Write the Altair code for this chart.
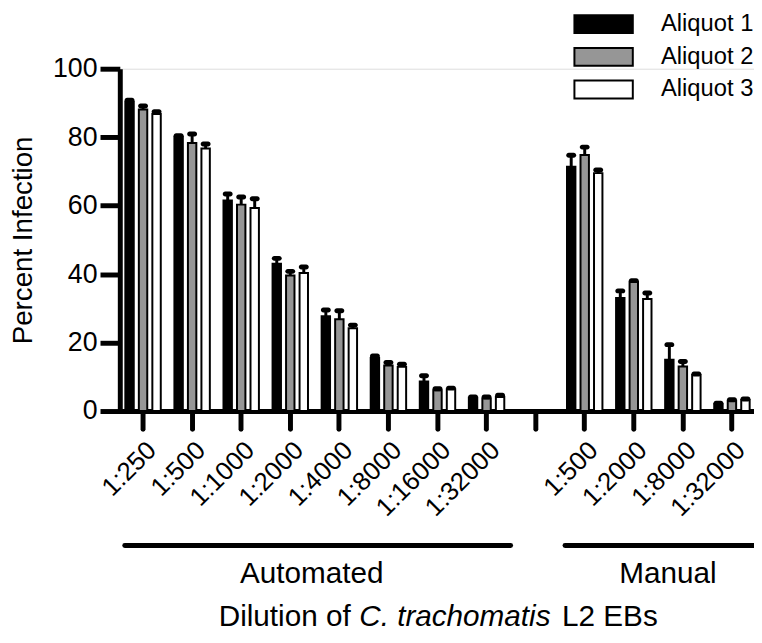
import altair as alt
import pandas as pd

# ---- data ----
automated_dilutions = ["1:250", "1:500", "1:1000", "1:2000", "1:4000", "1:8000", "1:16000", "1:32000"]
manual_dilutions = ["1:500", "1:2000", "1:8000", "1:32000"]
aliquots = ["Aliquot 1", "Aliquot 2", "Aliquot 3"]

aliquot1_auto = [90.3, 80.1, 61.5, 43.0, 27.7, 15.5, 8.6, 3.9]
aliquot1_auto_err = [0.5, 0.3, 1.9, 1.6, 1.8, 0.6, 1.7, 0.2]
aliquot2_auto = [88.1, 78.3, 60.3, 39.6, 26.8, 13.3, 6.1, 3.7]
aliquot2_auto_err = [1.0, 2.6, 2.2, 1.2, 2.5, 0.9, 0.4, 0.4]
aliquot3_auto = [86.8, 76.7, 59.3, 40.3, 24.2, 12.9, 6.4, 4.1]
aliquot3_auto_err = [0.6, 1.3, 2.7, 1.8, 0.9, 0.8, 0.3, 0.5]

aliquot1_manual = [71.4, 33.0, 15.0, 2.0]
aliquot1_manual_err = [3.3, 2.1, 4.4, 0.3]
aliquot2_manual = [74.8, 37.7, 13.0, 3.0]
aliquot2_manual_err = [2.3, 0.4, 1.5, 0.3]
aliquot3_manual = [69.5, 32.7, 10.5, 3.2]
aliquot3_manual_err = [0.9, 1.8, 0.3, 0.3]

group_names = ["Automated", "Manual"]
y_ticks = [0, 20, 40, 60, 80, 100]
title_parts = ["Dilution of", "C. trachomatis", "L2 EBs"]

FONT = "Liberation Sans"

# ---- table ----
keys = ["A " + d for d in automated_dilutions] + ["gap"] + ["M " + d for d in manual_dilutions]
rows = []
auto_sets = [(aliquot1_auto, aliquot1_auto_err), (aliquot2_auto, aliquot2_auto_err), (aliquot3_auto, aliquot3_auto_err)]
man_sets = [(aliquot1_manual, aliquot1_manual_err), (aliquot2_manual, aliquot2_manual_err), (aliquot3_manual, aliquot3_manual_err)]
for name, (vals, errs) in zip(aliquots, auto_sets):
    for d, v, e in zip(automated_dilutions, vals, errs):
        rows.append({"key": "A " + d, "aliquot": name, "value": v, "top": v + e})
for name, (vals, errs) in zip(aliquots, man_sets):
    for d, v, e in zip(manual_dilutions, vals, errs):
        rows.append({"key": "M " + d, "aliquot": name, "value": v, "top": v + e})
df = pd.DataFrame(rows)

x_enc = alt.X(
    "key:N",
    sort=keys,
    scale=alt.Scale(domain=keys, range=[-1.3, 643.5], paddingInner=0, paddingOuter=0),
    axis=alt.Axis(
        title=None,
        labelExpr="datum.value == 'gap' ? '' : substring(datum.value, 2)",
        labelAngle=-45,
        labelAlign="right",
        labelBaseline="top",
        labelFont=FONT,
        labelFontSize=26,
        labelColor="black",
        labelPadding=8,
        tickSize=18,
        tickWidth=5,
        tickColor="black",
        tickCap="round",
        domainWidth=5,
        domainColor="black",
        grid=False,
    ),
)
xoff_enc = alt.XOffset(
    "aliquot:N",
    sort=aliquots,
    scale=alt.Scale(domain=aliquots, paddingInner=0.377, paddingOuter=0.505),
)
y_enc = alt.Y(
    "value:Q",
    scale=alt.Scale(domain=[0, 100], nice=False, zero=True),
    axis=alt.Axis(
        title="Percent Infection",
        values=y_ticks,
        titleFont=FONT,
        titleFontSize=28,
        titleFontWeight="normal",
        titleColor="black",
        titlePadding=15,
        labelFont=FONT,
        labelFontSize=27,
        labelColor="black",
        labelPadding=3,
        tickSize=20,
        tickWidth=5,
        tickColor="black",
        domainWidth=5,
        domainColor="black",
        grid=False,
    ),
)

bars = alt.Chart(df).mark_bar(stroke="black", strokeWidth=2).encode(
    x=x_enc,
    xOffset=xoff_enc,
    y=y_enc,
    fill=alt.Fill(
        "aliquot:N",
        sort=aliquots,
        scale=alt.Scale(domain=aliquots, range=["#000000", "#969696", "#ffffff"]),
        legend=alt.Legend(
            title=None,
            orient="none",
            legendX=477,
            legendY=-57,
            symbolType="M-3.2,-0.98H3.2V0.98H-3.2Z",
            symbolSize=340,
            symbolStrokeColor="black",
            symbolStrokeWidth=2,
            symbolOpacity=1,
            labelFont=FONT,
            labelFontSize=24,
            labelColor="black",
            labelOffset=46,
            rowPadding=5,
            padding=0,
        ),
    ),
)

whiskers = alt.Chart(df).mark_rule(color="black", strokeWidth=3).encode(
    x=x_enc, xOffset=xoff_enc, y=alt.Y("value:Q"), y2=alt.Y2("top:Q")
)
caps = alt.Chart(df).mark_tick(color="black", thickness=5, size=10, cornerRadius=2.5, opacity=1).encode(
    x=x_enc, xOffset=xoff_enc, y=alt.Y("top:Q")
)

one = pd.DataFrame({"a": [0]})
line_auto = alt.Chart(one).mark_rule(color="black", strokeWidth=5, strokeCap="round").encode(
    x=alt.value(5), x2=alt.value(395), y=alt.value(482)
)
line_man = alt.Chart(one).mark_rule(color="black", strokeWidth=5, strokeCap="round").encode(
    x=alt.value(450), x2=alt.value(660), y=alt.value(482)
)
txt_auto = alt.Chart(one).mark_text(text=group_names[0], font=FONT, fontSize=30, color="black", align="center", baseline="alphabetic").encode(
    x=alt.value(194), y=alt.value(520)
)
txt_man = alt.Chart(one).mark_text(text=group_names[1], font=FONT, fontSize=30, color="black", align="center", baseline="alphabetic").encode(
    x=alt.value(554), y=alt.value(520)
)
t1 = alt.Chart(one).mark_text(text=title_parts[0], font=FONT, fontSize=30, color="black", align="left", baseline="alphabetic").encode(
    x=alt.value(100), y=alt.value(563)
)
t2 = alt.Chart(one).mark_text(text=title_parts[1], font=FONT, fontSize=30, fontStyle="italic", color="black", align="left", baseline="alphabetic").encode(
    x=alt.value(242), y=alt.value(563)
)
t3 = alt.Chart(one).mark_text(text=title_parts[2], font=FONT, fontSize=30, color="black", align="left", baseline="alphabetic").encode(
    x=alt.value(447), y=alt.value(563)
)

chart = alt.layer(bars, whiskers, caps, line_auto, line_man, txt_auto, txt_man, t1, t2, t3).properties(
    width=641,
    height=346,
    autosize=alt.AutoSizeParams(type="none"),
    padding={"left": 113, "top": 58, "right": 0, "bottom": 223},
).configure_view(stroke=None).configure(background="white")

chart.save("out.html", embed_options={"renderer": "svg", "actions": False})
